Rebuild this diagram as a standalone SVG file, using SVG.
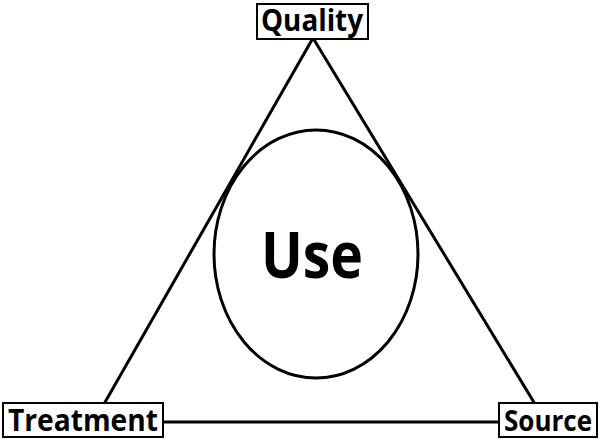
<svg xmlns="http://www.w3.org/2000/svg" width="600" height="439" viewBox="0 0 600 439">
<style>
.ln{stroke:#000;stroke-width:3;fill:none;stroke-linecap:round}
.box{fill:#fff;stroke:#000;stroke-width:2}
.lbl{font-family:"Open Sans","Liberation Sans",sans-serif;font-weight:bold;fill:#000}
</style>
<rect width="600" height="439" fill="#fff"/>
<g id="connectors">
<line class="ln" x1="313" y1="38" x2="100" y2="411"/>
<line class="ln" x1="313" y1="38" x2="535" y2="404"/>
<line class="ln" x1="163" y1="422" x2="499" y2="422"/>
</g>
<g id="use">
<ellipse class="ln" cx="316" cy="254" rx="102" ry="124"/>
<text class="lbl" x="312" y="278" font-size="65" text-anchor="middle" textLength="102" lengthAdjust="spacingAndGlyphs">Use</text>
</g>
<g id="quality">
<rect class="box" x="257" y="4" width="111" height="35"/>
<text class="lbl" x="312" y="31" font-size="30" text-anchor="middle" textLength="102" lengthAdjust="spacingAndGlyphs">Quality</text>
</g>
<g id="treatment">
<rect class="box" x="3" y="403" width="160" height="34"/>
<text class="lbl" x="83" y="431" font-size="30" text-anchor="middle" textLength="150" lengthAdjust="spacingAndGlyphs">Treatment</text>
</g>
<g id="source">
<rect class="box" x="499" y="403" width="98" height="34"/>
<text class="lbl" x="548" y="431" font-size="29" text-anchor="middle" textLength="88" lengthAdjust="spacingAndGlyphs">Source</text>
</g>
</svg>
